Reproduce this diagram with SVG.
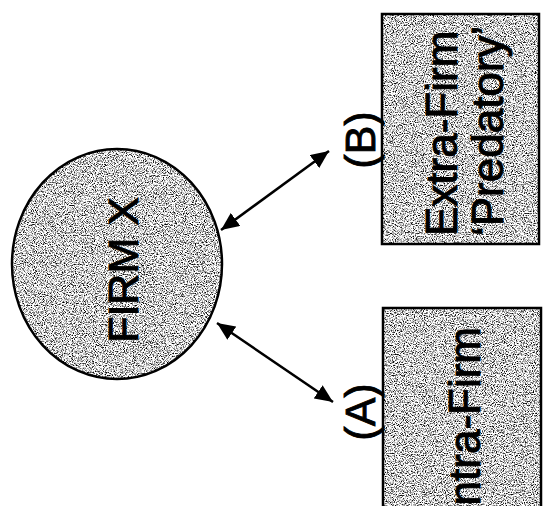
<svg xmlns="http://www.w3.org/2000/svg" width="544" height="506" viewBox="0 0 544 506">
  <style>
    .lbl { font-family: "Liberation Sans", Arial, sans-serif; fill: #000; stroke: #000; stroke-width: 0.9; }
    .outline { fill: none; stroke: #000; stroke-width: 2.5; }
    .tex { fill: #fff; filter: url(#grain); }
    .conn { stroke: #000; stroke-width: 2.5; fill: none; marker-start: url(#head); marker-end: url(#head); }
  </style>
  <defs>
    <filter id="grain" x="0" y="0" width="100%" height="100%" color-interpolation-filters="sRGB">
      <feTurbulence type="fractalNoise" baseFrequency="0.9" numOctaves="3" seed="7" result="n"/>
      <feColorMatrix in="n" type="matrix" values="0 0 0 0 0  0 0 0 0 0  0 0 0 0 0  -3.2 0 0 0 1.78" result="a"/>
      <feComposite in="a" in2="SourceGraphic" operator="in" result="dots"/>
      <feMerge>
        <feMergeNode in="SourceGraphic"/>
        <feMergeNode in="dots"/>
      </feMerge>
    </filter>
    <marker id="head" viewBox="0 0 18 16" refX="18" refY="8" markerWidth="18" markerHeight="16" markerUnits="userSpaceOnUse" orient="auto-start-reverse">
      <path d="M0,0 L18,8 L0,16 z" fill="#000"/>
    </marker>
  </defs>
  <rect width="544" height="506" fill="#fff"/>

  <g id="firm-x">
    <ellipse class="tex" cx="117" cy="264" rx="105" ry="115"/>
    <ellipse class="outline" cx="117" cy="264" rx="105" ry="115"/>
    <text class="lbl" font-size="43" text-anchor="middle" transform="translate(138,270) rotate(-90)">FIRM X</text>
  </g>

  <g id="extra-firm">
    <rect class="tex" x="382" y="14" width="157" height="230"/>
    <rect class="outline" x="382" y="14" width="157" height="230"/>
    <text class="lbl" font-size="44" text-anchor="start" transform="translate(457,236) rotate(-90)">Extra-Firm</text>
    <text class="lbl" font-size="44" text-anchor="start" transform="translate(503,236) rotate(-90)">‘Predatory’</text>
  </g>

  <g id="intra-firm">
    <rect class="tex" x="383" y="308" width="158" height="210"/>
    <rect class="outline" x="383" y="308" width="158" height="210"/>
    <text class="lbl" font-size="44" text-anchor="end" transform="translate(480,327) rotate(-90)">Intra-Firm</text>
  </g>

  <g id="connectors">
    <line class="conn" x1="221" y1="230" x2="329" y2="151"/>
    <line class="conn" x1="217" y1="323" x2="333" y2="402"/>
  </g>

  <g id="labels">
    <text class="lbl" font-size="43" text-anchor="middle" transform="translate(375,140) rotate(-90)">(B)</text>
    <text class="lbl" font-size="43" text-anchor="middle" transform="translate(375,412) rotate(-90)">(A)</text>
  </g>
</svg>
